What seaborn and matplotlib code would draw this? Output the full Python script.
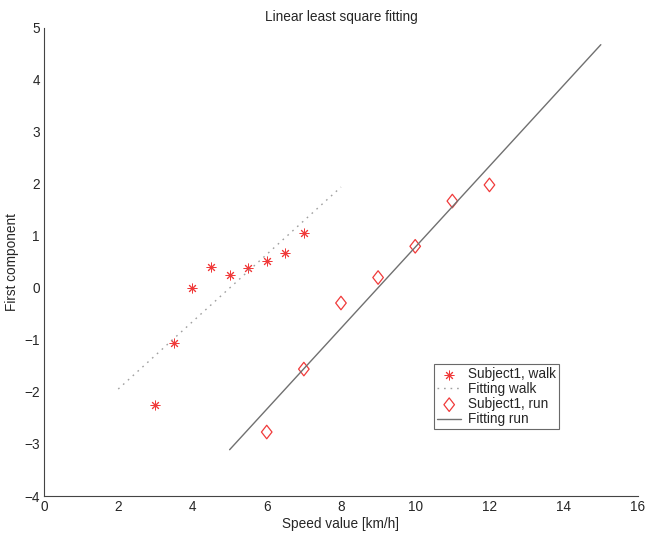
import numpy as np
import pandas as pd
import matplotlib
matplotlib.use("Agg")
import matplotlib.pyplot as plt
from matplotlib.path import Path
import seaborn as sns

# Data
walk_speed = [3, 3.5, 4, 4.5, 5, 5.5, 6, 6.5, 7]
walk_comp = [-2.25, -1.05, 0.00, 0.40, 0.25, 0.38, 0.52, 0.68, 1.05]
run_speed = [6, 7, 8, 9, 10, 11, 12]
run_comp = [-2.77, -1.56, -0.29, 0.20, 0.80, 1.67, 1.98]
walk_fit_range = [2, 8]
run_fit_range = [5, 15]
x_ticks = list(range(0, 17, 2))
y_ticks = list(range(-4, 6))

sns.set_theme(style="white")
plt.rcParams['font.family'] = ['Liberation Sans', 'DejaVu Sans']
plt.rcParams['xtick.direction'] = 'in'
plt.rcParams['ytick.direction'] = 'in'

FS = 9.8

fig = plt.figure(figsize=(6.47, 5.36), dpi=100)
ax = fig.add_axes([0.068, 0.0746, 0.918, 0.8735])

# Least squares fits
pw = np.polyfit(walk_speed, walk_comp, 1)
pr = np.polyfit(run_speed, run_comp, 1)
walk_fit = pd.DataFrame({"x": walk_fit_range, "y": np.polyval(pw, walk_fit_range)})
run_fit = pd.DataFrame({"x": run_fit_range, "y": np.polyval(pr, run_fit_range)})

diamond = Path([(0, 1), (0.78, 0), (0, -1), (-0.78, 0), (0, 1)],
               [Path.MOVETO, Path.LINETO, Path.LINETO, Path.LINETO, Path.CLOSEPOLY])

red = '#f03a3a'
sns.scatterplot(x=walk_speed, y=walk_comp, ax=ax, marker=(8, 2, 0), s=42,
                color=red, edgecolor=red, linewidth=0.7, label='Subject1, walk')
sns.lineplot(data=walk_fit, x="x", y="y", ax=ax, color='#a0a0a0', linestyle=(0, (1.2, 3.5)),
             linewidth=1.0, label='Fitting walk')
sns.scatterplot(x=run_speed, y=run_comp, ax=ax, marker=diamond, s=95,
                facecolor='none', edgecolor=red, linewidth=0.9, label='Subject1, run')
sns.lineplot(data=run_fit, x="x", y="y", ax=ax, color='#707070', linewidth=1.0,
             label='Fitting run')

ax.set_xlim(0, 16)
ax.set_ylim(-4, 5)
ax.set_xticks(x_ticks)
ax.set_yticks(y_ticks)
ax.tick_params(axis='both', labelsize=FS, length=4, width=0.6, color='#333333', pad=3)
for s in ['top', 'right']:
    ax.spines[s].set_visible(False)
for s in ['left', 'bottom']:
    ax.spines[s].set_color('#444444')
    ax.spines[s].set_linewidth(0.8)

ax.set_title('Linear least square fitting', fontsize=FS, pad=5)
ax.set_xlabel('Speed value [km/h]', fontsize=FS, labelpad=2)
ax.set_ylabel('First component', fontsize=FS, labelpad=4)

leg = ax.legend(loc='lower left', bbox_to_anchor=(0.657, 0.143), fontsize=FS,
                frameon=True, fancybox=False, edgecolor='#444444', borderpad=0.2,
                labelspacing=0.08, handlelength=1.8, handletextpad=0.5, borderaxespad=0)
leg.get_frame().set_linewidth(0.8)

fig.savefig('out.png', dpi=100)
